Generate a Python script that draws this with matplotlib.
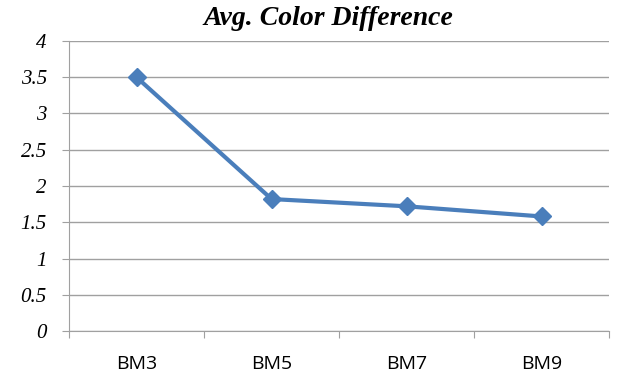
import matplotlib
matplotlib.use('Agg')
import matplotlib.pyplot as plt

# Data
categories = ['BM3', 'BM5', 'BM7', 'BM9']
avg_diff = [3.5, 1.82, 1.72, 1.58]
y_ticks = [0, 0.5, 1, 1.5, 2, 2.5, 3, 3.5, 4]
y_labels = ['0', '0.5', '1', '1.5', '2', '2.5', '3', '3.5', '4']

fig = plt.figure(figsize=(6.19, 3.75), dpi=100)
ax = fig.add_axes([0.1115, 0.1173, 0.8725, 0.7734])

x = list(range(len(categories)))
ax.plot(x, avg_diff, color='#4A7EBB', linewidth=3, marker='D',
        markersize=9, markeredgecolor='#4A7EBB', zorder=3)

ax.set_xlim(-0.5, len(categories) - 0.5)
ax.set_ylim(0, 4)

ax.set_yticks(y_ticks)
ax.set_yticklabels(y_labels, fontfamily='Liberation Serif', fontstyle='italic',
                   fontsize=15)
ax.grid(axis='y', color='#a0a0a0', linewidth=1)
ax.set_axisbelow(True)

# category labels between boundary ticks
ax.set_xticks([i - 0.5 for i in range(len(categories) + 1)])
ax.set_xticklabels([])
ax.set_xticks(x, minor=True)
ax.set_xticklabels(categories, minor=True, fontfamily='Open Sans', fontsize=14)
ax.tick_params(axis='x', which='minor', length=0, pad=17)
ax.tick_params(axis='x', which='major', length=5, color='#a0a0a0')
ax.tick_params(axis='y', length=5, color='#a0a0a0', pad=11)

for s in ['top', 'right']:
    ax.spines[s].set_visible(False)
for s in ['left', 'bottom']:
    ax.spines[s].set_color('#a0a0a0')

fig.text(0.53, 0.95, 'Avg. Color Difference', fontfamily='Liberation Serif',
         fontweight='bold', fontstyle='italic', fontsize=20,
         ha='center', va='center')

fig.savefig('out.png', dpi=100)
